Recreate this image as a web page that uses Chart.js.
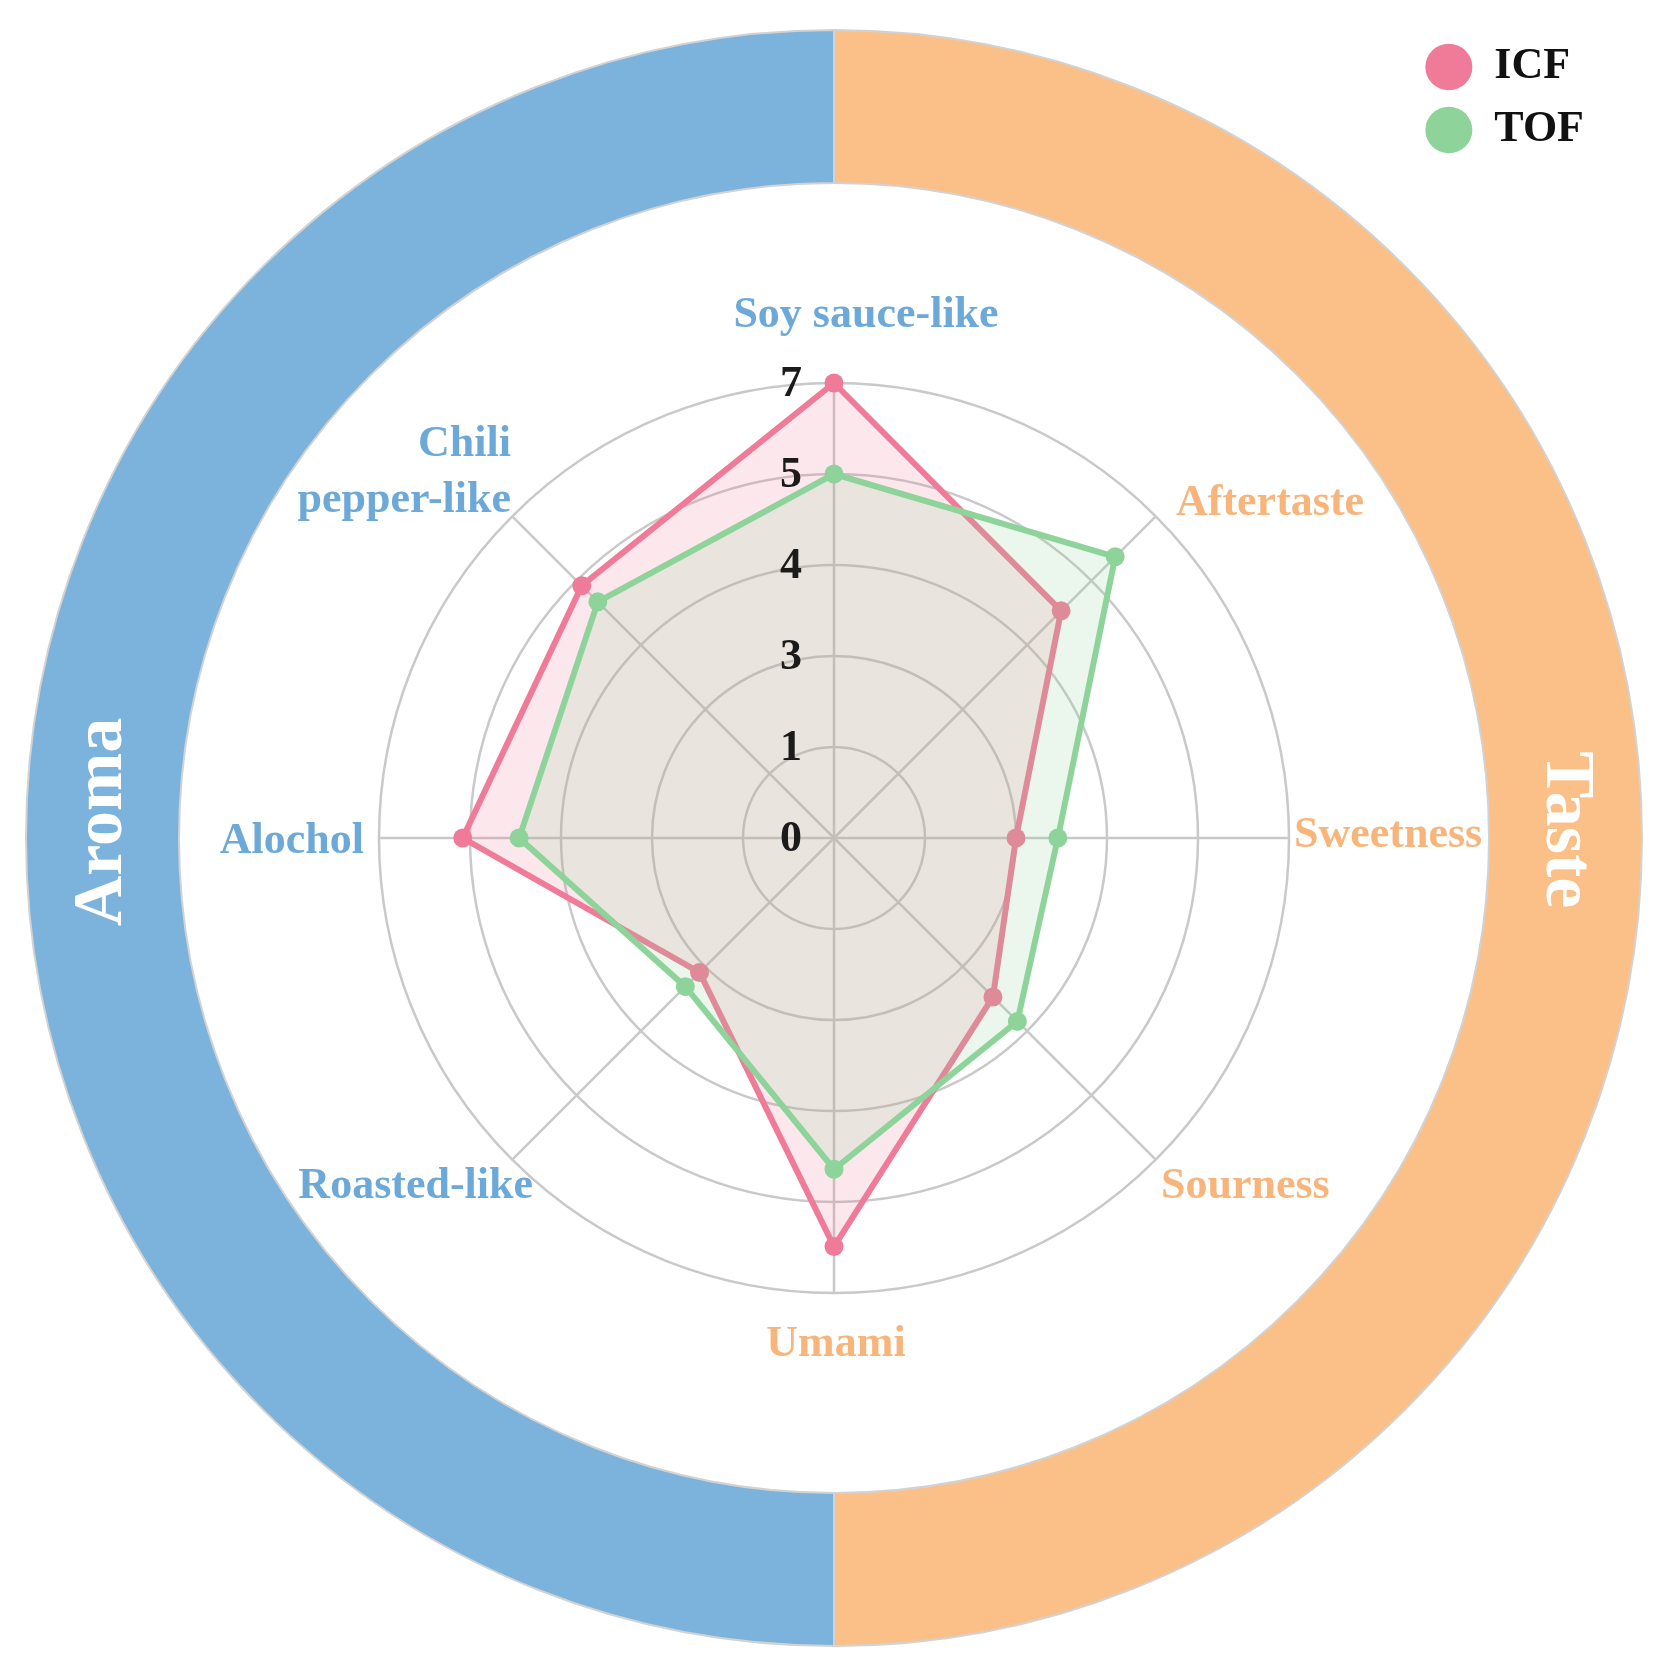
<!DOCTYPE html>
<html>
<head>
<meta charset="utf-8">
<title>ICF vs TOF sensory profile</title>
<script src="https://cdn.jsdelivr.net/npm/chart.js@4.4.1/dist/chart.umd.min.js"></script>
<style>
  html, body { margin: 0; padding: 0; background: #fff; }
  #stage { position: relative; width: 1673px; height: 1678px; }
  .layer { position: absolute; left: 0; top: 0; width: 1673px; height: 1678px; }
</style>
</head>
<body>
<div id="stage">
  <div class="layer"><canvas id="ringChart"></canvas></div>
  <div class="layer"><canvas id="radarChart"></canvas></div>
</div>
<script>
// --- data ---
var attributes = ["Soy sauce-like", "Aftertaste", "Sweetness", "Sourness", "Umami", "Roasted-like", "Alochol", ["Chili", "pepper-like"]];
var attributeGroup = ["Aroma", "Taste", "Taste", "Taste", "Taste", "Aroma", "Aroma", "Aroma"];

var groups = ["Taste", "Aroma"];
var attributesPerGroup = [4, 4];

// the printed ticks are uneven (0,1,3,4,5,7) while the rings are evenly spaced,
// so scores are read in ring steps (0 = centre, 5 = outer ring)
var tickLabels = ["0", "1", "3", "4", "5", "7"];
var icfScores = [5.0, 3.53, 2.0, 2.47, 4.49, 2.09, 4.08, 3.92];
var tofScores = [4.0, 4.37, 2.46, 2.85, 3.64, 2.31, 3.46, 3.67];

// --- layout / style ---
var W = 1673, H = 1678;
var CX = 834, CY = 838;
var RING_OUTER = 808, RING_INNER = 655;
var RADAR_R = 455;

var AROMA = "#7BB3DC", TASTE = "#FBC088";
var AROMA_TEXT = "#6DA9D8", TASTE_TEXT = "#F8B57B";
var GRID = "#c9c9c9";

// distance past the outer ring, then a small nudge, for each category name
var labelGap = [67, 23, 5, 23, 52, 23, 15, 23];
var labelNudge = [[32, 0], [4, 4], [0, -2], [-11, 11], [2, 0], [37, 11], [0, 4], [15, -27]];
// vertical nudge of the group names in the band (Taste, Aroma)
var groupNudge = [-8, -16];

Chart.defaults.font.family = "'Liberation Serif', 'Times New Roman', serif";

// white group names written along the outer band
var ringLabels = {
  id: "ringLabels",
  afterDatasetsDraw(chart) {
    var ctx = chart.ctx;
    chart.getDatasetMeta(0).data.forEach(function (arc, i) {
      var p = arc.getCenterPoint();
      var mid = (arc.startAngle + arc.endAngle) / 2;
      ctx.save();
      ctx.translate(p.x, p.y + groupNudge[i]);
      ctx.rotate(mid + Math.PI / 2);
      ctx.font = "bold 70px 'Liberation Serif'";
      ctx.fillStyle = "#fff";
      ctx.textAlign = "center";
      ctx.textBaseline = "middle";
      ctx.fillText(chart.data.labels[i], 0, 0);
      ctx.restore();
    });
  },
};

new Chart("ringChart", {
  type: "doughnut",
  data: {
    labels: groups,
    datasets: [
      {
        data: attributesPerGroup,
        backgroundColor: [TASTE, AROMA],
        borderColor: "#d2d2d2",
        borderWidth: 2,
      },
    ],
  },
  options: {
    responsive: true,
    maintainAspectRatio: false,
    animation: false,
    events: [],
    radius: RING_OUTER,
    cutout: (RING_INNER / RING_OUTER) * 100 + "%",
    layout: {
      padding: { left: CX - RING_OUTER, right: W - CX - RING_OUTER, top: CY - RING_OUTER, bottom: H - CY - RING_OUTER },
    },
    plugins: { legend: { display: false }, tooltip: { enabled: false } },
  },
  plugins: [ringLabels],
});

// tick numbers and category names, placed through the radial scale
var radarText = {
  id: "radarText",
  afterDatasetsDraw(chart) {
    var r = chart.scales.r;
    var ctx = chart.ctx;
    ctx.save();
    ctx.font = "bold 44px 'Liberation Serif'";
    ctx.textBaseline = "middle";

    ctx.textAlign = "center";
    ctx.fillStyle = "#1b1b1b";
    r.ticks.forEach(function (t, i) {
      ctx.fillText(tickLabels[i], r.xCenter - 43, r.yCenter - r.getDistanceFromCenterForValue(t.value) + 2);
    });

    chart.data.labels.forEach(function (label, i) {
      var p = r.getPointPosition(i, r.drawingArea + labelGap[i]);
      var x = p.x + labelNudge[i][0];
      var y = p.y + labelNudge[i][1];
      var lines = [].concat(label);
      ctx.fillStyle = attributeGroup[i] === "Aroma" ? AROMA_TEXT : TASTE_TEXT;
      if (Math.abs(p.x - r.xCenter) < 1) ctx.textAlign = "center";
      else ctx.textAlign = p.x > r.xCenter ? "left" : "right";
      lines.forEach(function (ln, k) {
        ctx.fillText(ln, x, y + (k - (lines.length - 1) / 2) * 56);
      });
    });
    ctx.restore();
  },
};

new Chart("radarChart", {
  type: "radar",
  data: {
    labels: attributes,
    datasets: [
      {
        label: "ICF",
        data: icfScores,
        borderColor: "#EF7B98",
        backgroundColor: "rgba(239,123,152,0.18)",
        pointBackgroundColor: "#EF7B98",
        borderWidth: 6,
        pointRadius: 9.5,
        pointBorderWidth: 0,
        fill: true,
        order: 2,
      },
      {
        label: "TOF",
        data: tofScores,
        borderColor: "#8ED49A",
        backgroundColor: "rgba(142,212,154,0.18)",
        pointBackgroundColor: "#8ED49A",
        borderWidth: 6,
        pointRadius: 9.5,
        pointBorderWidth: 0,
        fill: true,
        order: 1,
      },
    ],
  },
  options: {
    responsive: true,
    maintainAspectRatio: false,
    animation: false,
    events: [],
    layout: { padding: { top: 26, right: 79 } },
    scales: {
      r: {
        min: 0,
        max: 5,
        ticks: { stepSize: 1, display: false, callback: (v, i) => tickLabels[i] },
        pointLabels: { display: false },
        grid: { circular: true, color: GRID, lineWidth: 2.5 },
        angleLines: { color: GRID, lineWidth: 2.5 },
        // keep the web concentric with the outer band
        afterFit: function (scale) {
          scale.xCenter = CX;
          scale.yCenter = CY;
          scale.drawingArea = RADAR_R;
        },
      },
    },
    plugins: {
      tooltip: { enabled: false },
      legend: {
        position: "right",
        align: "start",
        labels: {
          usePointStyle: true,
          pointStyle: "circle",
          pointStyleWidth: 47,
          boxHeight: 33,
          padding: 19,
          color: "#111",
          font: { size: 44, weight: "bold" },
          sort: (a, b) => a.datasetIndex - b.datasetIndex,
          generateLabels: function (chart) {
            var items = Chart.defaults.plugins.legend.labels.generateLabels(chart);
            items.forEach(function (it) {
              it.fillStyle = chart.data.datasets[it.datasetIndex].borderColor;
              it.lineWidth = 0;
            });
            return items;
          },
        },
      },
    },
  },
  plugins: [radarText],
});
</script>
</body>
</html>
